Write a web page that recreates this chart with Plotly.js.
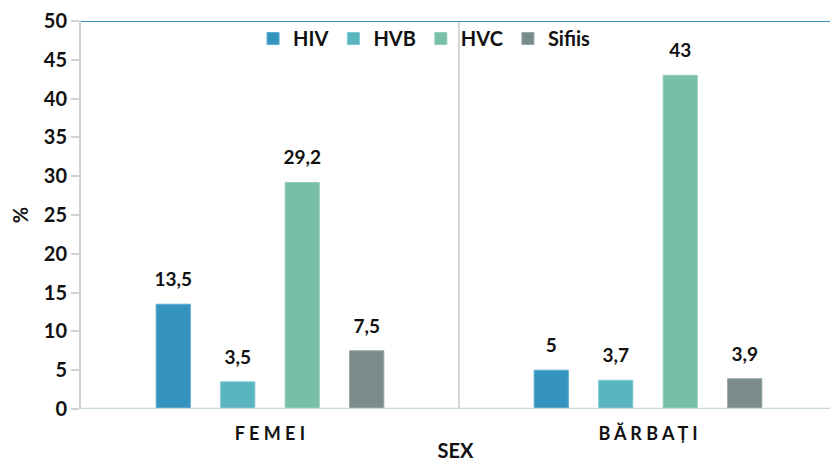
<!DOCTYPE html>
<html>
<head>
<meta charset="utf-8">
<script src="https://cdn.plot.ly/plotly-3.0.1.min.js"></script>
<style>html,body{margin:0;padding:0;background:#fff;}#chart{width:830px;height:464px;}</style>
</head>
<body>
<div id="chart"></div>
<script>
const categories = ["FEMEI", "BĂRBAȚI"];
const tickLabels = ["F\u00a0E\u00a0M\u00a0E\u00a0I", "B\u00a0Ă\u00a0R\u00a0B\u00a0A\u00a0Ț\u00a0I"];
const seriesNames = ["HIV", "HVB", "HVC", "Sifiis"];
const hiv = [13.5, 5];
const hvb = [3.5, 3.7];
const hvc = [29.2, 43];
const sifiis = [7.5, 3.9];
const yTicks = [0, 5, 10, 15, 20, 25, 30, 35, 40, 45, 50];

const colors = ["#3594bd", "#59b6c0", "#77bfa6", "#7a8b8c"];
const lineColors = ["#5aa9cc", "#7fc8d0", "#96cfba", "#97a4a5"];
const FONT = "Lato, 'Open Sans', sans-serif";
const W = 700;

const fmt = v => '<span style="font-size:19px">' + String(v).replace('.', ',') + '</span><br> ';
const seriesValues = [hiv, hvb, hvc, sifiis];

const traces = seriesValues.map((vals, i) => ({
  type: 'bar',
  name: seriesNames[i],
  x: categories,
  y: vals,
  text: vals.map(fmt),
  textposition: 'outside',
  constraintext: 'none',
  textfont: {family: FONT, size: 10, color: '#111', weight: W},
  cliponaxis: false,
  marker: {color: colors[i], line: {color: lineColors[i], width: 1}},
  hoverinfo: 'none'
}));

const layout = {
  width: 830, height: 464,
  margin: {l: 81, r: 0, t: 21, b: 55},
  paper_bgcolor: '#fff', plot_bgcolor: '#fff',
  barmode: 'group',
  bargap: 0.3175,
  bargroupgap: 0.47,
  showlegend: true,
  legend: {
    orientation: 'h', x: 0.458, xanchor: 'center', y: 1.005, yanchor: 'top',
    font: {family: FONT, size: 20, color: '#111', weight: W},
    bgcolor: 'rgba(0,0,0,0)', itemwidth: 30, traceorder: 'normal'
  },
  xaxis: {
    type: 'category',
    range: [-0.5, 1.4815],
    tickvals: categories,
    ticktext: tickLabels,
    tickfont: {family: FONT, size: 18, color: '#111', weight: W},
    showgrid: false, zeroline: false, showline: false, ticks: '',
    ticklabelstandoff: 12,
    title: {text: 'SEX', font: {family: FONT, size: 20, color: '#111', weight: W}, standoff: 0}
  },
  yaxis: {
    range: [0, 50],
    tickvals: yTicks,
    tickfont: {family: FONT, size: 20, color: '#111', weight: W},
    showgrid: false, zeroline: false,
    showline: true, linecolor: '#d0d4d6', linewidth: 2,
    ticks: 'outside', ticklen: 8, tickcolor: '#d0d4d6', tickwidth: 2,
    title: {text: '%', font: {family: FONT, size: 20, color: '#111', weight: W}, standoff: 10}
  },
  shapes: [
    {type: 'line', xref: 'paper', yref: 'y', x0: 0, x1: 1, y0: 50, y1: 50, line: {color: '#3a93bf', width: 2}},
    {type: 'line', xref: 'paper', yref: 'y', x0: 0, x1: 1, y0: 0, y1: 0, line: {color: '#c6d6dd', width: 2.5}},
    {type: 'line', xref: 'x', yref: 'paper', x0: 0.5, x1: 0.5, y0: 0, y1: 1, line: {color: '#d6d6d6', width: 2}, layer: 'below'}
  ]
};

Plotly.newPlot('chart', traces, layout, {displayModeBar: false, staticPlot: true});
</script>
</body>
</html>
